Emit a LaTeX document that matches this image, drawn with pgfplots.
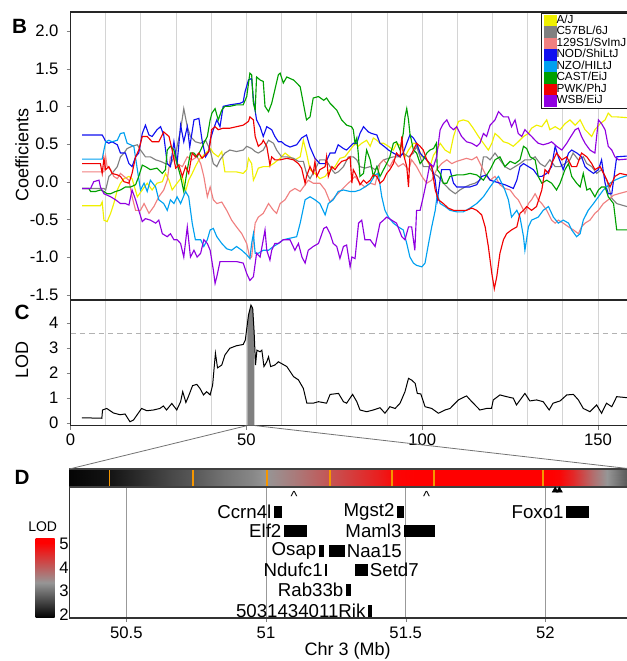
\documentclass[border=0pt]{standalone}
\usepackage{pgfplots}
\pgfplotsset{compat=1.18}
\usepackage{fontspec}
\setmainfont{Liberation Sans}
\definecolor{cAJ}{RGB}{240,240,0}
\definecolor{cB6}{RGB}{128,128,128}
\definecolor{cSv}{RGB}{240,128,128}
\definecolor{cNOD}{RGB}{16,16,240}
\definecolor{cNZO}{RGB}{0,160,240}
\definecolor{cCAST}{RGB}{0,160,0}
\definecolor{cPWK}{RGB}{240,0,0}
\definecolor{cWSB}{RGB}{144,0,224}
\definecolor{cOr}{RGB}{245,150,0}
\newcommand\tf{\fontsize{12.5}{14}\selectfont}
\newcommand\lf{\fontsize{13.5}{15}\selectfont}
\newcommand\gf{\fontsize{14}{15}\selectfont}
\pgfplotsset{colormap={lod}{rgb255(0cm)=(0,0,0) rgb255(1.5cm)=(150,150,150) rgb255(3.2cm)=(255,0,0) rgb255(3.4cm)=(255,0,0)}}
\begin{document}
\begin{tikzpicture}
\path[use as bounding box] (0,0) rectangle (470.25pt,495.75pt);

% ---------------- Panel B ----------------
\begin{axis}[name=axB, at={(52.9pt,270.75pt)}, anchor=south west, scale only axis,
  width=421.1pt, height=216pt,
  xmin=0, xmax=159.65, ymin=-1.57, ymax=2.252,
  xtick={10,20,...,150}, xticklabels={}, xtick style={draw=none},
  xmajorgrids, grid style={draw=black!17, line width=0.7pt},
  ytick={-1.5,-1,-0.5,0,0.5,1,1.5,2},
  yticklabels={-1.5,-1.0,-0.5,0.0,0.5,1.0,1.5,2.0},
  ytick pos=left, tick align=outside, major tick length=3pt,
  /pgf/number format/assume math mode=true,
  tick label style={font=\tf}, yticklabel style={xshift=-2.5pt},
  axis line style={draw=black!85, line width=0.8pt},
  ylabel={Coefficients},
  ylabel style={font=\lf, at={(axis description cs:-0.0864,0.503)}, anchor=center},
  every axis plot/.append style={line width=0.85pt},
  legend style={at={(0.838,0.997)}, anchor=north west, font=\fontsize{8.8}{9}\selectfont,
    draw=black!90, line width=0.7pt, inner xsep=1.5pt, inner ysep=1.2pt, row sep=0pt,
    nodes={inner sep=0pt, text height=6.3pt, text depth=2.3pt}},
  legend cell align=left,
  legend image code/.code={\fill[#1,draw=none] (0pt,-4.3pt) rectangle (9.75pt,4.3pt);},
]
\addplot[cAJ] coordinates {(3.3,-0.32) (8.5,-0.32) (9.0,-0.27) (9.5,-0.51) (10.4,-0.53) (11.4,-0.42) (12.3,-0.29) (13.3,-0.11) (14.2,-0.02) (15.2,0.04) (16.6,0.07) (17.5,0.04) (19.0,-0.20) (20.4,-0.11) (21.8,-0.02) (23.2,-0.11) (24.6,-0.02) (26.1,0.00) (27.0,0.11) (28.0,0.02) (28.9,-0.11) (30.3,-0.02) (31.8,0.07) (32.7,-0.13) (33.6,0.02) (34.6,0.11) (35.5,0.20) (36.5,0.29) (37.4,0.33) (38.4,0.38) (39.8,0.44) (40.6,0.38) (42.0,0.33) (43.0,0.40) (43.9,0.13) (45.3,0.13) (47.2,0.13) (49.1,0.11) (50.1,0.16) (50.6,0.31) (51.5,0.24) (52.0,0.02) (52.5,0.07) (53.4,0.18) (54.8,0.20) (56.3,0.20) (57.7,0.24) (59.6,0.31) (61.0,0.38) (62.4,0.33) (63.8,0.29) (65.3,0.33) (66.2,0.55) (67.1,0.38) (68.1,0.16) (69.5,0.11) (70.9,0.04) (72.4,0.07) (73.8,0.16) (75.2,0.20) (76.6,0.31) (78.0,0.33) (79.5,0.42) (80.9,0.51) (81.8,0.47) (82.8,0.51) (84.2,0.55) (85.2,0.47) (86.1,0.58) (87.1,0.55) (88.0,0.51) (89.0,0.51) (90.4,0.47) (91.8,0.42) (92.7,0.51) (94.2,0.47) (95.1,0.33) (96.1,0.42) (97.5,0.51) (98.4,0.51) (99.9,0.33) (100.8,0.33) (102.2,0.20) (103.2,0.35) (103.9,0.40) (105.1,0.51) (106.5,0.42) (107.9,0.38) (108.9,0.60) (110.3,0.80) (111.7,0.82) (113.1,0.80) (114.5,0.71) (116.0,0.60) (117.4,0.51) (118.8,0.42) (119.8,0.51) (120.7,0.64) (121.7,0.60) (123.1,0.53) (124.5,0.51) (125.9,0.47) (127.3,0.53) (128.8,0.60) (130.2,0.64) (131.1,0.71) (132.5,0.75) (134.0,0.73) (135.4,0.82) (136.3,0.69) (137.8,0.73) (139.2,0.69) (140.6,0.77) (142.0,0.82) (143.5,0.75) (144.9,0.82) (146.3,0.69) (148.2,0.60) (149.1,0.69) (150.6,0.77) (152.0,0.82) (152.9,0.91) (153.9,0.86) (155.3,0.86) (158.2,0.85)};
\addlegendentry{A/J}
\addplot[cB6] coordinates {(3.3,-0.09) (9.5,-0.09) (10.0,-0.11) (10.9,0.07) (11.8,0.11) (13.3,0.20) (14.2,0.33) (15.2,0.38) (16.1,0.44) (17.5,0.47) (19.0,0.49) (19.9,0.42) (21.3,0.33) (22.7,0.33) (24.2,0.29) (25.6,0.27) (27.0,0.24) (28.4,0.22) (29.9,0.38) (31.3,0.69) (32.2,0.97) (33.2,0.73) (34.1,0.60) (35.5,0.53) (37.0,0.51) (38.4,0.55) (39.7,0.42) (40.6,0.24) (41.6,0.20) (42.5,0.29) (43.9,0.38) (45.3,0.42) (47.2,0.40) (49.1,0.42) (50.1,0.47) (51.5,0.44) (52.5,0.40) (53.4,0.38) (54.8,0.42) (56.3,0.55) (57.7,0.51) (58.6,0.42) (60.0,0.33) (61.5,0.33) (63.4,0.31) (64.8,0.27) (66.2,0.27) (67.1,0.11) (68.1,0.04) (69.5,0.16) (70.9,0.29) (72.4,0.29) (73.3,0.24) (74.3,0.16) (75.2,0.11) (76.1,0.13) (77.6,0.20) (79.0,0.33) (80.4,0.33) (81.4,0.29) (82.3,0.20) (83.7,0.18) (85.2,0.20) (86.6,0.16) (88.0,0.24) (89.0,0.29) (90.4,0.31) (91.8,0.33) (93.2,0.33) (94.6,0.38) (96.1,0.33) (97.5,0.38) (98.4,0.47) (99.4,0.33) (100.3,0.20) (101.8,0.20) (103.2,0.11) (104.6,0.07) (106.0,-0.02) (107.9,-0.11) (109.4,-0.16) (110.7,-0.11) (112.2,-0.07) (113.6,-0.04) (115.0,-0.02) (116.4,0.02) (117.4,0.33) (118.3,0.33) (119.3,0.29) (120.7,0.38) (122.1,0.29) (123.5,0.20) (125.0,0.16) (126.4,0.20) (127.8,0.24) (129.2,0.29) (130.7,0.29) (132.1,0.33) (133.5,0.24) (134.9,0.20) (136.3,0.29) (137.8,0.20) (139.2,0.20) (140.6,0.24) (142.0,0.29) (142.9,0.38) (144.4,0.29) (145.8,0.33) (146.8,0.24) (148.2,0.20) (149.6,0.11) (151.0,0.16) (152.5,0.02) (153.9,-0.22) (155.3,-0.29) (156.7,-0.31) (158.2,-0.33)};
\addlegendentry{C57BL/6J}
\addplot[cSv] coordinates {(3.3,0.13) (9.5,0.13) (10.0,0.33) (10.4,0.20) (11.4,0.16) (12.3,0.07) (13.3,0.04) (14.2,0.11) (15.2,0.07) (16.6,0.02) (17.5,-0.20) (18.5,-0.38) (19.9,-0.38) (20.9,-0.29) (22.3,-0.42) (23.7,-0.33) (25.1,-0.20) (26.5,-0.11) (27.5,0.02) (28.4,0.33) (29.4,0.33) (30.3,0.24) (31.8,0.20) (33.2,0.33) (34.6,0.29) (36.0,0.33) (37.0,0.24) (37.9,0.07) (38.9,-0.20) (39.7,-0.07) (40.6,-0.24) (41.6,-0.29) (43.0,-0.27) (44.4,-0.38) (45.8,-0.51) (47.2,-0.60) (48.7,-0.69) (50.1,-0.82) (51.0,-1.02) (51.5,-1.00) (52.5,-0.55) (53.4,-0.47) (54.8,-0.42) (56.3,-0.29) (57.7,-0.38) (58.6,-0.42) (59.6,-0.29) (61.0,-0.24) (62.4,-0.13) (63.8,-0.09) (65.3,-0.13) (66.7,-0.04) (67.6,0.02) (69.0,-0.02) (70.9,-0.02) (72.4,-0.11) (73.8,-0.27) (75.2,-0.20) (76.6,-0.13) (78.5,-0.04) (79.9,0.02) (80.9,0.07) (82.3,-0.02) (83.7,-0.07) (85.2,-0.02) (86.6,-0.04) (88.0,0.24) (89.0,0.29) (89.9,0.24) (90.8,0.20) (91.8,0.29) (93.2,0.20) (94.6,0.24) (96.1,0.16) (97.0,0.29) (98.4,0.20) (99.9,0.07) (101.3,-0.02) (102.7,0.02) (104.1,0.16) (105.5,0.24) (107.0,0.29) (108.4,0.24) (109.8,0.27) (111.2,0.29) (112.6,0.31) (114.1,0.29) (115.5,0.33) (116.9,0.20) (118.3,0.07) (119.3,0.02) (120.7,0.07) (122.1,-0.04) (123.5,-0.09) (125.0,-0.11) (126.4,-0.20) (127.3,-0.24) (128.3,-0.33) (129.2,-0.42) (130.2,-0.29) (131.1,-0.24) (132.1,-0.16) (133.0,-0.24) (134.0,-0.29) (135.4,-0.38) (136.8,-0.51) (137.8,-0.55) (138.7,-0.51) (140.1,-0.55) (141.6,-0.60) (143.0,-0.64) (144.4,-0.69) (145.3,-0.60) (146.3,-0.55) (147.7,-0.51) (149.1,-0.42) (150.1,-0.38) (151.5,-0.29) (152.9,-0.24) (154.4,-0.18) (155.8,-0.16) (158.2,-0.13)};
\addlegendentry{129S1/SvImJ}
\addplot[cNOD] coordinates {(3.3,0.62) (9.0,0.62) (9.5,0.58) (10.0,0.53) (10.9,0.51) (11.8,0.53) (13.3,0.49) (14.2,0.38) (15.6,0.38) (16.6,0.24) (17.5,0.20) (18.5,0.33) (19.4,0.38) (20.4,0.64) (21.3,0.75) (22.3,0.62) (23.2,0.60) (24.6,0.69) (25.6,0.73) (26.5,0.62) (27.5,0.24) (28.4,0.20) (29.4,0.53) (30.3,0.24) (31.3,0.75) (32.2,0.53) (33.2,0.73) (33.9,0.46) (35.1,0.82) (36.5,0.84) (37.4,0.55) (38.4,0.33) (39.3,0.40) (39.7,0.55) (40.6,0.69) (41.6,0.82) (42.5,0.73) (43.4,1.00) (45.3,1.02) (48.2,1.04) (49.1,1.06) (49.6,1.19) (50.6,1.35) (51.5,1.37) (52.0,1.09) (52.9,0.82) (53.9,0.73) (54.8,0.60) (55.8,0.73) (57.2,0.69) (58.1,0.60) (59.1,0.53) (60.0,0.53) (61.0,0.49) (62.4,0.46) (64.3,0.49) (65.7,0.58) (67.1,0.62) (68.1,0.46) (69.5,0.31) (70.9,0.24) (72.4,0.24) (73.8,0.38) (75.2,0.38) (76.1,0.49) (77.6,0.44) (78.5,0.42) (80.4,0.51) (81.4,0.51) (82.3,0.64) (83.3,0.73) (84.7,0.66) (85.6,0.64) (87.1,0.62) (88.0,0.51) (89.4,0.46) (90.4,0.42) (91.8,0.38) (93.7,0.33) (94.6,0.38) (95.6,0.51) (96.5,0.62) (97.5,0.58) (98.4,0.51) (99.4,0.38) (100.3,0.33) (101.3,0.29) (102.7,0.20) (103.7,0.02) (104.3,-0.24) (105.5,0.16) (107.9,0.16) (108.9,-0.02) (109.8,-0.07) (113.6,-0.07) (115.5,-0.04) (116.9,0.07) (118.3,0.09) (119.3,0.02) (120.7,0.00) (122.1,-0.02) (123.5,-0.04) (125.0,-0.07) (125.9,-0.09) (126.9,0.02) (127.8,0.20) (128.8,0.24) (130.2,0.20) (131.6,0.16) (133.0,0.07) (134.0,0.07) (135.4,0.11) (136.8,0.20) (137.8,0.47) (138.7,0.33) (140.1,0.16) (141.6,0.38) (142.5,0.42) (144.0,0.38) (145.3,0.33) (146.3,0.20) (147.2,0.16) (148.7,0.11) (150.1,0.16) (151.0,0.29) (152.0,-0.02) (152.9,-0.16) (153.9,-0.16) (155.3,0.33) (158.2,0.34)};
\addlegendentry{NOD/ShiLtJ}
\addplot[cNZO] coordinates {(3.3,0.30) (9.0,0.30) (9.5,0.42) (10.0,0.53) (10.9,0.55) (11.8,0.53) (13.3,0.55) (14.2,0.64) (15.2,0.65) (16.1,0.51) (17.1,0.49) (18.0,0.47) (19.0,0.16) (19.9,-0.11) (20.9,-0.02) (21.8,-0.13) (22.7,0.02) (24.2,-0.07) (25.1,-0.24) (26.5,-0.29) (27.5,-0.38) (28.4,-0.24) (29.4,-0.29) (30.3,-0.20) (31.3,-0.29) (32.7,-0.13) (33.6,-0.20) (34.6,-0.55) (35.5,-0.77) (37.0,-0.77) (37.9,-0.86) (38.9,-0.77) (39.7,-0.64) (40.6,-0.62) (41.6,-0.73) (43.0,-0.82) (44.4,-0.89) (45.8,-0.91) (47.2,-0.86) (48.7,-0.91) (50.1,-0.97) (51.0,-1.02) (51.5,-0.82) (52.0,-0.69) (52.5,-0.95) (53.4,-0.95) (54.8,-0.91) (56.3,-0.91) (57.7,-0.86) (59.1,-0.82) (60.5,-0.77) (62.4,-0.75) (64.3,-0.73) (65.3,-0.55) (66.7,-0.24) (68.1,-0.20) (69.5,-0.24) (70.9,-0.29) (72.4,-0.44) (73.3,-0.29) (74.7,-0.24) (76.1,-0.13) (77.6,-0.11) (79.5,-0.13) (80.9,-0.13) (82.3,-0.11) (83.7,-0.07) (85.2,-0.02) (86.6,0.09) (87.5,0.11) (88.5,-0.20) (89.4,-0.38) (90.4,-0.47) (91.8,-0.55) (93.2,-0.60) (94.6,-0.64) (95.6,-0.82) (96.5,-1.00) (97.5,-1.08) (98.4,-1.11) (99.9,-1.13) (100.8,-1.08) (101.8,-0.82) (102.7,-0.60) (103.7,-0.38) (104.3,-0.16) (105.1,-0.29) (106.5,-0.33) (107.9,-0.38) (109.8,-0.40) (111.7,-0.40) (113.6,-0.35) (115.5,-0.29) (117.4,-0.20) (119.3,-0.07) (120.7,0.02) (121.7,0.07) (122.6,-0.02) (123.5,-0.11) (124.5,-0.24) (125.4,-0.47) (126.9,-0.38) (127.8,-0.47) (128.8,-0.73) (129.2,-0.91) (130.2,-0.60) (131.1,-0.51) (133.0,-0.47) (134.4,-0.38) (135.9,-0.33) (137.3,-0.47) (138.7,-0.55) (140.1,-0.51) (141.6,-0.55) (142.5,-0.64) (143.9,-0.73) (144.9,-0.69) (145.8,-0.51) (147.2,-0.38) (148.7,-0.29) (150.1,-0.20) (151.5,-0.11) (152.5,-0.07) (153.4,-0.02) (154.8,0.02) (156.2,0.05) (158.2,0.08)};
\addlegendentry{NZO/HILtJ}
\addplot[cCAST] coordinates {(3.3,-0.09) (5.2,-0.09) (5.7,-0.13) (7.1,-0.13) (8.5,-0.11) (9.5,-0.13) (10.4,-0.16) (11.4,-0.16) (12.8,-0.13) (14.2,-0.11) (15.6,-0.07) (17.1,-0.07) (18.5,-0.04) (19.4,0.07) (20.4,0.22) (21.3,0.20) (22.7,0.16) (24.6,0.18) (26.1,0.11) (27.0,0.16) (27.5,0.42) (28.4,0.47) (29.4,0.42) (30.3,0.24) (31.3,0.07) (32.2,-0.13) (33.2,0.16) (34.1,0.38) (35.1,0.38) (36.0,0.33) (37.0,0.42) (37.9,0.51) (38.9,0.60) (39.7,0.82) (40.2,0.91) (41.1,0.97) (42.0,0.82) (43.0,0.95) (43.9,1.00) (45.3,1.00) (47.2,1.02) (49.1,1.02) (50.1,1.13) (51.0,1.44) (51.5,1.42) (52.0,1.04) (52.5,0.95) (52.9,1.39) (53.9,1.35) (54.8,1.33) (55.3,1.00) (56.3,0.93) (57.2,1.04) (58.1,1.22) (59.1,1.42) (59.6,1.44) (60.5,1.31) (61.5,1.39) (62.4,1.37) (63.4,1.35) (64.3,1.31) (65.3,1.26) (66.2,1.04) (67.1,0.82) (68.1,0.86) (69.0,1.11) (70.5,1.13) (72.0,1.08) (72.8,1.11) (73.8,1.04) (75.7,0.95) (77.1,0.82) (78.5,0.75) (79.9,0.73) (80.4,0.69) (80.9,0.51) (81.4,0.58) (81.8,0.38) (82.3,0.07) (83.3,0.11) (84.2,0.42) (85.2,0.29) (86.1,0.07) (87.1,0.20) (88.0,0.07) (89.0,0.16) (89.9,0.24) (90.8,0.33) (91.8,0.51) (92.7,0.53) (93.7,0.42) (94.6,0.64) (95.1,0.86) (95.6,0.97) (96.1,0.82) (96.5,0.64) (97.5,0.42) (98.4,0.38) (99.4,0.24) (100.3,0.29) (101.3,0.38) (102.2,0.42) (103.2,0.44) (104.0,0.51) (104.3,0.16) (105.1,0.11) (106.0,-0.02) (107.0,-0.02) (107.9,0.07) (109.8,0.09) (111.7,0.09) (113.6,0.11) (115.5,0.09) (117.4,0.02) (119.3,0.16) (120.7,0.29) (122.1,0.33) (123.5,0.20) (125.0,0.27) (126.4,0.24) (127.8,0.29) (128.8,0.47) (129.7,0.44) (130.7,0.33) (132.1,0.29) (133.0,0.07) (134.0,-0.02) (135.4,0.02) (136.8,-0.02) (138.2,-0.11) (139.2,-0.02) (140.6,0.16) (141.6,0.24) (142.5,0.07) (143.9,-0.02) (144.9,-0.07) (145.8,0.11) (146.8,-0.11) (147.7,-0.09) (149.1,-0.20) (150.1,-0.11) (151.0,-0.07) (152.0,-0.07) (152.9,-0.20) (154.4,-0.29) (155.3,-0.64) (158.2,-0.64)};
\addlegendentry{CAST/EiJ}
\addplot[cPWK] coordinates {(3.3,0.24) (8.5,0.24) (9.0,0.11) (9.5,0.31) (10.0,0.16) (10.9,0.20) (11.8,0.11) (13.3,0.09) (14.2,0.07) (15.2,0.00) (16.6,-0.02) (17.5,0.11) (18.5,0.33) (19.4,0.42) (20.4,0.60) (21.8,0.60) (23.2,0.53) (25.1,0.53) (26.5,0.66) (28.0,0.60) (28.9,0.42) (29.9,0.18) (30.8,0.22) (31.8,0.07) (32.7,0.20) (33.6,0.11) (34.6,0.38) (35.5,0.33) (36.5,0.38) (37.4,0.31) (38.9,0.38) (39.3,0.40) (39.7,0.51) (40.1,0.69) (41.1,0.73) (42.0,0.69) (43.4,0.71) (45.3,0.71) (47.2,0.73) (49.1,0.75) (50.6,0.80) (51.0,0.86) (52.0,0.82) (52.5,0.60) (53.4,0.47) (54.4,0.51) (54.8,0.55) (55.8,0.47) (56.7,0.22) (57.2,0.33) (58.1,0.29) (59.6,0.29) (61.5,0.31) (63.4,0.29) (64.8,0.24) (65.7,0.18) (66.7,-0.02) (67.1,0.07) (68.1,0.20) (69.0,0.11) (69.5,0.27) (70.0,0.07) (70.9,0.16) (72.4,0.20) (72.8,0.33) (73.3,0.07) (74.3,0.20) (75.2,0.16) (76.1,0.22) (77.1,0.27) (78.5,0.29) (79.5,0.33) (80.0,-0.02) (80.4,0.16) (81.4,0.07) (82.3,-0.04) (83.3,0.02) (84.2,-0.02) (85.2,0.02) (86.1,0.09) (87.1,0.07) (88.0,-0.02) (89.0,0.02) (89.9,0.11) (90.8,0.16) (91.8,0.24) (92.7,0.38) (93.7,0.33) (94.2,0.60) (94.6,0.38) (95.6,0.20) (96.1,-0.07) (96.5,0.33) (97.5,0.42) (98.4,0.51) (99.4,0.47) (100.3,0.42) (101.3,0.29) (102.7,0.20) (103.7,-0.11) (104.6,-0.24) (106.0,-0.29) (107.4,-0.35) (108.9,-0.38) (110.7,-0.38) (112.6,-0.38) (114.1,-0.35) (115.5,-0.38) (116.9,-0.44) (117.9,-0.60) (118.8,-0.86) (119.8,-1.22) (120.5,-1.42) (121.2,-1.26) (122.1,-0.95) (123.1,-0.77) (124.0,-0.69) (125.4,-0.64) (126.9,-0.60) (127.8,-0.42) (128.8,-0.38) (129.7,-0.33) (131.1,-0.38) (132.5,-0.33) (134.0,-0.11) (134.9,0.16) (135.9,0.11) (136.8,0.24) (138.2,0.38) (139.7,0.29) (141.1,0.33) (142.5,0.20) (143.9,0.20) (145.3,0.38) (146.8,0.33) (148.2,0.24) (149.1,0.16) (150.6,0.20) (152.0,0.07) (153.4,-0.07) (154.8,0.07) (156.2,0.11) (158.2,0.09)};
\addlegendentry{PWK/PhJ}
\addplot[cWSB] coordinates {(3.3,-0.09) (5.7,-0.09) (6.6,0.00) (8.1,0.02) (8.5,-0.07) (9.5,-0.16) (11.4,-0.20) (12.8,-0.24) (14.2,-0.29) (15.6,-0.29) (16.6,-0.31) (17.5,-0.11) (18.5,-0.24) (19.4,-0.38) (20.4,-0.53) (21.3,-0.49) (22.7,-0.51) (24.2,-0.55) (25.1,-0.51) (26.1,-0.69) (27.5,-0.73) (28.4,-0.69) (29.4,-0.77) (30.3,-0.77) (31.3,-0.82) (32.2,-1.00) (33.2,-0.60) (34.1,-1.00) (35.1,-0.91) (36.0,-1.00) (37.0,-0.95) (37.9,-0.77) (38.9,-0.82) (39.7,-0.91) (40.6,-1.17) (41.1,-1.35) (41.6,-1.26) (42.5,-1.06) (43.4,-1.06) (45.3,-1.06) (47.2,-1.06) (49.1,-1.08) (50.1,-1.22) (51.0,-1.31) (52.0,-1.26) (52.9,-0.95) (53.9,-1.00) (54.8,-0.77) (55.3,-0.64) (55.8,-0.91) (56.7,-1.04) (57.2,-0.91) (58.1,-0.82) (59.1,-0.82) (60.5,-0.77) (62.4,-0.77) (63.8,-0.91) (64.8,-0.82) (65.8,-1.00) (66.7,-1.08) (67.6,-0.91) (69.0,-0.86) (70.5,-0.82) (72.0,-0.62) (72.8,-0.60) (73.8,-0.69) (74.7,-0.82) (75.7,-0.86) (76.6,-1.02) (77.6,-0.86) (78.5,-0.84) (79.5,-1.13) (80.0,-1.00) (80.9,-1.02) (81.9,-0.55) (82.8,-0.51) (83.7,-0.77) (85.2,-0.77) (86.6,-0.86) (88.0,-0.55) (89.0,-0.51) (89.9,-0.47) (91.3,-0.51) (92.7,-0.55) (94.2,-0.73) (95.1,-0.77) (96.1,-0.60) (97.0,-0.60) (97.9,-0.91) (98.4,-0.38) (99.4,-0.38) (100.3,-0.20) (101.3,0.02) (102.2,0.24) (103.2,0.20) (104.1,0.33) (105.1,0.69) (106.0,0.77) (107.0,0.82) (107.9,0.73) (108.9,0.69) (109.8,0.73) (111.2,0.60) (112.6,0.53) (114.1,0.51) (115.5,0.47) (116.4,0.51) (117.4,0.64) (118.3,0.60) (119.3,0.75) (120.7,0.82) (121.7,0.93) (123.1,0.86) (124.5,0.86) (125.4,0.73) (126.4,0.82) (127.3,0.64) (128.3,0.60) (129.2,0.69) (130.2,0.64) (131.1,0.60) (132.1,0.55) (133.0,0.51) (134.4,0.49) (135.9,0.51) (136.8,0.53) (138.2,0.47) (139.7,0.42) (141.1,0.51) (142.0,0.58) (143.5,0.69) (144.4,0.71) (145.3,0.60) (146.3,0.51) (147.7,0.42) (149.1,0.38) (150.1,0.82) (151.0,0.77) (152.0,0.69) (152.9,0.47) (153.9,0.42) (154.8,0.33) (155.8,0.29) (158.2,0.30)};
\addlegendentry{WSB/EiJ}
\end{axis}

% ---------------- Panel C ----------------
\begin{axis}[name=axC, at={(52.9pt,176.6pt)}, anchor=south west, scale only axis,
  width=421.1pt, height=94.1pt,
  xmin=0, xmax=159.65, ymin=-0.1, ymax=4.9,
  xtick={0,50,100,150}, xticklabels={0,50,100,150},
  minor xtick={10,20,...,150}, minor tick length=0pt,
  xmajorgrids, xminorgrids, grid style={draw=black!17, line width=0.7pt},
  ytick={0,1,2,3,4}, yticklabels={0,1,2,3,4},
  tick pos=left, tick align=outside, major tick length=3pt,
  tick label style={font=\tf}, yticklabel style={xshift=-2.5pt},
  axis line style={draw=black!85, line width=0.8pt},
  ylabel={LOD},
  ylabel style={font=\lf, at={(axis description cs:-0.0864,0.52)}, anchor=center},
]
\addplot[black!30, line width=0.8pt, dash pattern=on 4pt off 3pt] coordinates {(0,3.56) (159.65,3.56)};
\addplot[fill=black!50, draw=none] coordinates {(50.3,-0.1) (50.3,3.97) (50.6,4.30) (51.3,4.70) (51.8,4.57) (52.2,3.64) (52.3,3.30) (52.3,-0.1)} -- cycle;
\addplot[black, line width=0.75pt] coordinates {(3.2,0.21) (8.9,0.19) (9.1,0.52) (10.3,0.58) (12.2,0.40) (14.1,0.33) (15.5,0.36) (16.9,0.05) (17.9,0.12) (20.2,0.58) (21.7,0.49) (23.6,0.52) (25.4,0.58) (26.4,0.68) (27.3,0.52) (28.8,0.78) (30.2,0.52) (31.3,0.85) (31.9,1.25) (32.8,0.82) (33.5,1.05) (34.7,1.49) (35.9,1.54) (36.8,1.38) (37.8,1.12) (38.7,1.25) (39.7,1.12) (40.4,1.51) (41.2,2.78) (41.8,2.20) (43.0,2.31) (43.9,2.71) (45.3,2.98) (47.2,3.08) (49.1,3.13) (49.7,3.31) (50.6,4.30) (51.3,4.70) (51.8,4.57) (52.2,3.64) (52.6,2.31) (53.0,2.90) (53.9,2.84) (54.4,2.90) (55.0,2.25) (55.8,2.44) (56.3,2.64) (56.9,2.25) (58.1,2.31) (59.1,2.44) (60.0,2.37) (61.5,2.25) (63.4,1.85) (64.8,1.72) (66.2,1.38) (67.2,0.79) (69.0,0.79) (70.5,0.85) (72.8,0.79) (73.8,1.14) (76.2,1.18) (77.6,0.85) (78.5,0.79) (80.2,1.14) (81.4,0.85) (82.3,0.52) (84.2,0.45) (86.1,0.52) (88.0,0.61) (89.4,0.39) (90.8,0.65) (92.3,0.58) (93.7,0.79) (95.1,1.25) (96.1,1.78) (97.0,1.71) (98.0,1.58) (98.6,1.18) (99.6,1.16) (100.8,0.65) (102.7,0.58) (104.6,0.39) (106.5,0.52) (107.9,0.58) (110.3,0.92) (112.6,1.08) (114.1,0.85) (116.4,0.52) (118.3,0.58) (119.7,0.58) (120.2,0.92) (122.1,1.12) (124.0,1.05) (125.9,0.99) (126.8,0.72) (129.2,1.18) (130.6,0.88) (132.5,0.92) (134.4,0.85) (136.1,0.52) (137.2,0.79) (139.2,0.88) (141.1,1.12) (143.0,1.14) (144.4,0.92) (145.8,0.58) (147.7,0.45) (149.6,0.72) (151.0,0.39) (152.4,0.79) (153.9,0.65) (155.3,1.05) (158.2,1.01)};
\coordinate (cL) at (axis cs:50.3,-0.1);
\coordinate (cR) at (axis cs:52.3,-0.1);
\end{axis}

% ---------------- Panel D ----------------
\begin{axis}[name=axD, at={(52pt,32.25pt)}, anchor=south west, scale only axis,
  width=422pt, height=111.75pt,
  xmin=50.296, xmax=52.31, ymin=0, ymax=149,
  xtick={50.5,51,51.5,52}, xticklabels={50.5,51,51.5,52},
  ytick=\empty, xtick pos=left, tick align=outside, major tick length=3pt,
  xmajorgrids, grid style={draw=black!40, line width=0.6pt},
  tick label style={font=\tf},
  axis line style={draw=black!80, line width=0.8pt},
  xlabel={Chr 3 (Mb)},
  xlabel style={font=\lf, at={(axis description cs:0.4947,-0.2215)}, anchor=center},
  colormap name=lod, point meta min=1.85, point meta max=5.25,
  colorbar,
  colorbar style={at={(parent axis.south west)}, anchor=south west, xshift=-33.75pt,
    scale only axis, width=15.75pt, height=60pt,
    ytick={2,3,4,5}, yticklabels={2,3,4,5}, yticklabel pos=right,
    major tick length=0pt, axis line style={draw=none},
    yticklabel style={font=\fontsize{12.5}{13}\selectfont, xshift=-1.5pt}},
]
\addplot[surf, shader=interp, mesh/rows=2, point meta=explicit] table[x=x, y=y, meta=c] {
x y c
50.296 131 1.90
50.40 131 2.00
50.44 131 2.05
50.55 131 2.30
50.65 131 2.55
50.75 131 2.75
50.85 131 3.00
50.95 131 3.20
51.00 131 3.35
51.10 131 3.65
51.20 131 4.00
51.30 131 4.35
51.40 131 4.70
51.47 131 5.00
51.60 131 5.10
52.00 131 5.10
52.05 131 5.00
52.10 131 4.60
52.17 131 3.80
52.22 131 3.35
52.31 131 2.60
50.296 149 1.90
50.40 149 2.00
50.44 149 2.05
50.55 149 2.30
50.65 149 2.55
50.75 149 2.75
50.85 149 3.00
50.95 149 3.20
51.00 149 3.35
51.10 149 3.65
51.20 149 4.00
51.30 149 4.35
51.40 149 4.70
51.47 149 5.00
51.60 149 5.10
52.00 149 5.10
52.05 149 5.00
52.10 149 4.60
52.17 149 3.80
52.22 149 3.35
52.31 149 2.60
};
\addplot[cOr, line width=1.4pt, unbounded coords=jump] coordinates {(50.44,131.5) (50.44,148.5) (50.44,nan) (50.74,131.5) (50.74,148.5) (50.74,nan) (51.005,131.5) (51.005,148.5) (51.005,nan) (51.23,131.5) (51.23,148.5) (51.23,nan) (51.45,131.5) (51.45,148.5) (51.45,nan) (51.60,131.5) (51.60,148.5) (51.60,nan) (51.99,131.5) (51.99,148.5)};
\addplot[black!75, line width=0.8pt] coordinates {(50.296,131) (52.31,131)};
\addplot[black!75, line width=0.8pt] coordinates {(50.296,149) (52.31,149)};
\addplot[only marks, mark=text, text mark={\fontsize{11}{11}\selectfont\textasciicircum}] coordinates {(51.10,122) (51.575,122)};
\addplot[only marks, mark=triangle*, mark size=2.6pt, black] coordinates {(52.035,127.5) (52.05,127.5)};
% genes
\addplot[fill=black, draw=none] coordinates {(51.027,100) (51.056,100) (51.056,112) (51.027,112)} -- cycle;
\addplot[fill=black, draw=none] coordinates {(51.063,81) (51.145,81) (51.145,93) (51.063,93)} -- cycle;
\addplot[fill=black, draw=none] coordinates {(51.188,61) (51.206,61) (51.206,73) (51.188,73)} -- cycle;
\addplot[fill=black, draw=none] coordinates {(51.224,61) (51.281,61) (51.281,73) (51.224,73)} -- cycle;
\addplot[fill=black, draw=none] coordinates {(51.211,42) (51.219,42) (51.219,54) (51.211,54)} -- cycle;
\addplot[fill=black, draw=none] coordinates {(51.320,42) (51.364,42) (51.364,54) (51.320,54)} -- cycle;
\addplot[fill=black, draw=none] coordinates {(51.285,22) (51.303,22) (51.303,34) (51.285,34)} -- cycle;
\addplot[fill=black, draw=none] coordinates {(51.364,1.5) (51.378,1.5) (51.378,13) (51.364,13)} -- cycle;
\addplot[fill=black, draw=none] coordinates {(51.468,100) (51.493,100) (51.493,112) (51.468,112)} -- cycle;
\addplot[fill=black, draw=none] coordinates {(51.493,81) (51.604,81) (51.604,93) (51.493,93)} -- cycle;
\addplot[fill=black, draw=none] coordinates {(52.073,100) (52.156,100) (52.156,112) (52.073,112)} -- cycle;
\begin{scope}[every node/.style={font=\gf, inner sep=1.5pt}]
\node[anchor=east] at (axis cs:51.027,106) {Ccrn4l};
\node[anchor=east] at (axis cs:51.063,87) {Elf2};
\node[anchor=east] at (axis cs:51.188,67) {Osap};
\node[anchor=west] at (axis cs:51.281,67) {Naa15};
\node[anchor=east] at (axis cs:51.211,48) {Ndufc1};
\node[anchor=west] at (axis cs:51.364,48) {Setd7};
\node[anchor=east] at (axis cs:51.285,28) {Rab33b};
\node[anchor=east] at (axis cs:51.364,7) {5031434011Rik};
\node[anchor=east] at (axis cs:51.468,106) {Mgst2};
\node[anchor=east] at (axis cs:51.493,87) {Maml3};
\node[anchor=east] at (axis cs:52.073,106) {Foxo1};
\end{scope}
\end{axis}

% connecting lines, title of colour bar and panel letters
\draw[black!55, line width=0.6pt] (cL) -- (axD.north west);
\draw[black!55, line width=0.6pt] (cR) -- (axD.north east);
\node[font=\fontsize{10.5}{11}\selectfont] at (32pt,100.5pt) {LOD};
\node[font=\bfseries\fontsize{15.5}{16}\selectfont] at (14.6pt,476pt) {B};
\node[font=\bfseries\fontsize{15.5}{16}\selectfont] at (16.5pt,261.5pt) {C};
\node[font=\bfseries\fontsize{15.5}{16}\selectfont] at (16.5pt,137.6pt) {D};
\end{tikzpicture}
\end{document}
